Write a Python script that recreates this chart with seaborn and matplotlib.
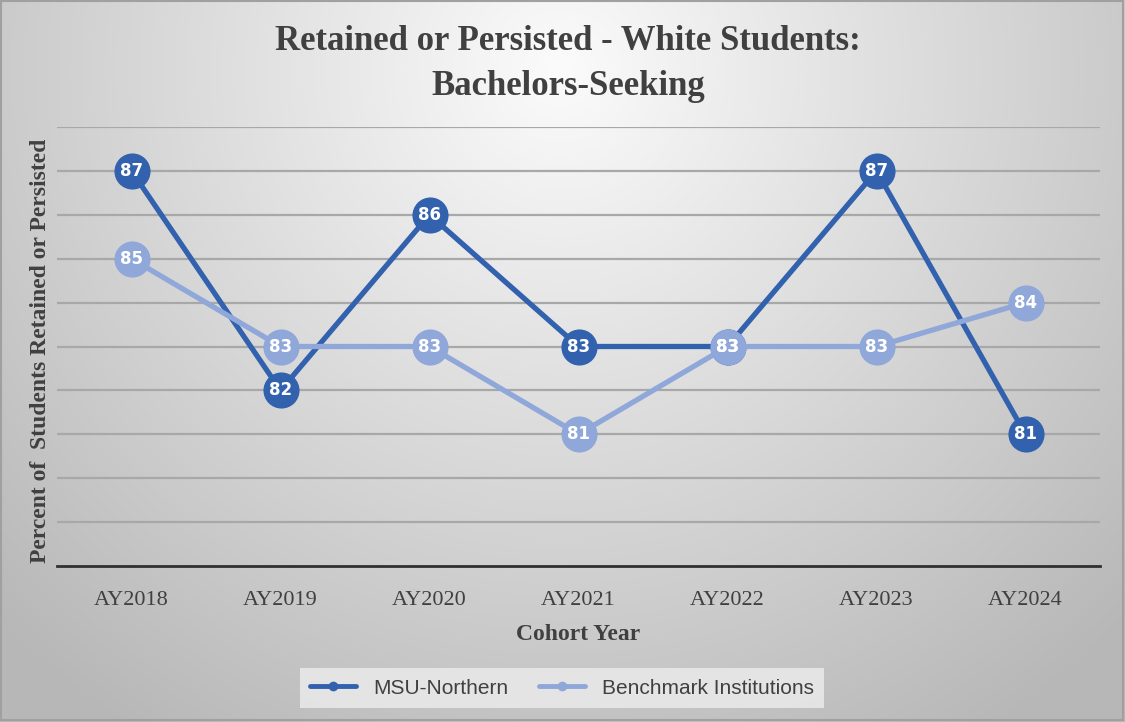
import numpy as np
import pandas as pd
import matplotlib
matplotlib.use("Agg")
import matplotlib.pyplot as plt
import seaborn as sns
from matplotlib.patches import Rectangle

years = ["AY2018", "AY2019", "AY2020", "AY2021", "AY2022", "AY2023", "AY2024"]
msu = [87, 82, 86, 83, 83, 87, 81]
bench = [85, 83, 83, 81, 83, 83, 84]
series_names = ["MSU-Northern", "Benchmark Institutions"]
colors = {"MSU-Northern": "#3261AE", "Benchmark Institutions": "#8FA7D9"}

df = pd.concat([
    pd.DataFrame({"Year": years, "Value": msu, "Series": series_names[0]}),
    pd.DataFrame({"Year": years, "Value": bench, "Series": series_names[1]}),
])
df["x"] = df["Year"].map({y: i for i, y in enumerate(years)})

sns.set_theme(style="white")
serif = ["Liberation Serif", "DejaVu Serif"]
sans = ["Liberation Sans Narrow", "Liberation Sans", "DejaVu Sans"]

W, H = 1125, 722
fig = plt.figure(figsize=(W / 100, H / 100), dpi=100)

# radial gradient background
bg = fig.add_axes([0, 0, 1, 1], zorder=-10)
yy, xx = np.mgrid[0:H, 0:W]
cx, cy = 560, 70
r = np.sqrt(((xx - cx) / 800.0) ** 2 + ((yy - cy) / 800.0) ** 2)
v = np.clip(0.985 - 0.27 * r, 0.72, 1.0)
bg.imshow(np.dstack([v, v, v]), extent=[0, W, H, 0], aspect="auto")
bg.set_xlim(0, W)
bg.set_ylim(H, 0)
bg.axis("off")
bg.add_patch(Rectangle((1, 1), W - 3, H - 3, fill=False, edgecolor="#a0a0a0", lw=1.5))

ax = fig.add_axes([57 / W, 1 - 566 / H, (1100 - 57) / W, (566 - 127) / H])
ax.patch.set_alpha(0)

for s in series_names:
    d = df[df["Series"] == s]
    sns.lineplot(data=d, x="x", y="Value", ax=ax, color=colors[s], lw=3.8,
                 marker="o", markersize=26, markeredgewidth=0, label=s,
                 zorder=3 if s == series_names[0] else 4)
    for xv, yv in zip(d["x"], d["Value"]):
        ax.text(xv, yv, f"{yv}", color="white", fontsize=12, fontweight="bold",
                ha="center", va="center", family=["DejaVu Sans"],
                zorder=5 if s == series_names[0] else 6)

ax.set_xlim(-0.5, 6.5)
ax.set_ylim(78, 88)
ax.set_yticks(np.arange(79, 89, 1))
ax.yaxis.grid(True, color="#a8a8a8", lw=1.6)
ax.set_yticklabels([])
ax.tick_params(axis="y", length=0)
ax.set_xticks(range(len(years)))
ax.set_xticklabels(years, family=serif, fontsize=16, color="#404040")
ax.tick_params(axis="x", length=0, pad=18)
for sp in ["top", "right", "left"]:
    ax.spines[sp].set_visible(False)
ax.spines["bottom"].set_color("#303030")
ax.spines["bottom"].set_linewidth(2)
ax.set_xlabel("Cohort Year", family=serif, fontsize=17, fontweight="bold",
              color="#404040", labelpad=10)
ax.set_ylabel("Percent of  Students Retained or Persisted", family=serif,
              fontsize=17, fontweight="bold", color="#404040")
ax.yaxis.set_label_coords(-0.006, 0.49)

fig.text(0.505, 0.965, "Retained or Persisted - White Students:\nBachelors-Seeking",
         ha="center", va="top", family=serif, fontsize=25, fontweight="bold",
         color="#404040", linespacing=1.45)

leg = ax.legend(loc="center", bbox_to_anchor=(562 / W, 1 - 688 / H),
                bbox_transform=fig.transFigure, ncol=2, frameon=True,
                prop={"family": sans, "size": 15}, handlelength=2.2,
                columnspacing=1.5, borderpad=0.5, fancybox=False)
leg.get_frame().set_facecolor("#e8e8e8")
leg.get_frame().set_edgecolor("none")
leg.get_frame().set_alpha(0.9)
for h in leg.legend_handles:
    h.set_markersize(7)
    h.set_linewidth(3.5)
for t in leg.get_texts():
    t.set_color("#404040")

fig.savefig("out.png", dpi=100)
